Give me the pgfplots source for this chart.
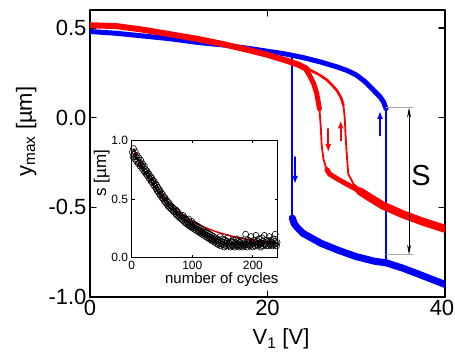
\documentclass[border=0pt]{standalone}
\usepackage{fontspec}
\setmainfont{Liberation Sans}
\usepackage{pgfplots}
\pgfplotsset{compat=1.18}
\usetikzlibrary{arrows.meta}
\definecolor{cblue}{RGB}{0,0,250}
\definecolor{cred}{RGB}{255,0,0}
\definecolor{cgray}{RGB}{170,170,170}
\begin{document}
\begin{tikzpicture}
\useasboundingbox (-90pt,-55pt) rectangle (365pt,297pt);
\begin{axis}[
  at={(0pt,0pt)}, anchor=south west,
  scale only axis, width=355pt, height=287pt,
  xmin=0, xmax=40, ymin=-1, ymax=0.6,
  xtick={0,20}, ytick={-1,-0.5,0,0.5},
  extra x ticks={40},
  extra x tick style={xticklabel style={xshift=-3pt}},
  tick align=inside, major tick length=6pt,
  every tick/.style={black, line width=1.2pt},
  axis line style={line width=1.4pt},
  tick label style={font=\fontsize{22}{22}\selectfont},
  /pgf/number format/assume math mode=true,
  yticklabel style={/pgf/number format/fixed,/pgf/number format/fixed zerofill,/pgf/number format/precision=1},
  xlabel={V\textsubscript{1} [V]},
  xlabel style={font=\fontsize{22}{22}\selectfont, at={(axis description cs:0.538,-0.167)}, anchor=base, inner sep=0pt},
  ylabel={y\textsubscript{max} [µm]},
  ylabel style={font=\fontsize{22}{22}\selectfont, at={(axis description cs:-0.150,0.576)}, anchor=south, inner sep=0pt},
  line join=round, line cap=round,
]
% blue: upper branch
\addplot[cblue, line width=5pt, no marks] coordinates {
(0,0.48)(3,0.47)(6,0.455)(9,0.44)(12,0.42)(15,0.405)(18,0.385)(20,0.37)(22,0.355)(24,0.335)(26,0.31)(28,0.28)(29,0.262)(30,0.238)(31,0.2)(31.6,0.17)(32.2,0.14)(32.7,0.115)(33.1,0.085)(33.35,0.05)};
% blue: transitions
\addplot[cblue, line width=1.8pt, no marks] coordinates {(22.72,0.33)(22.72,-0.54)};
\addplot[cblue, line width=2pt, no marks] coordinates {(33.4,-0.79)(33.4,0.06)};
% blue: lower branch
\addplot[cblue, line width=7pt, no marks] coordinates {
(22.8,-0.56)(23.0,-0.59)(23.3,-0.61)(24,-0.645)(26,-0.70)(28,-0.74)(30,-0.775)(32,-0.80)(33.4,-0.81)(35.3,-0.84)(37.2,-0.876)(40,-0.93)};
% red: upper branch
\addplot[cred, line width=6pt, no marks] coordinates {
(0,0.515)(3,0.51)(6,0.49)(9,0.465)(12,0.44)(15,0.41)(18,0.375)(20,0.35)(22,0.32)(23.5,0.295)(24.4,0.272)};
% red: outer (left) branch
\addplot[cred, line width=5pt, no marks] coordinates {(24.2,0.28)(24.8,0.23)(25.2,0.19)(25.55,0.135)(25.85,0.05)};
\addplot[cred, line width=1.8pt, no marks] coordinates {(25.85,0.05)(26.0,-0.05)(26.1,-0.15)(26.3,-0.23)(26.6,-0.28)};
\addplot[cred, line width=5pt, no marks] coordinates {(26.7,-0.29)(27.0,-0.315)(28,-0.345)(28.9,-0.37)(30.4,-0.41)(31.5,-0.445)};
% red: inner (right) branch
\addplot[cred, line width=2.6pt, no marks] coordinates {(24.6,0.27)(25.8,0.24)(26.7,0.21)(27.3,0.18)(27.8,0.153)(28.3,0.11)(28.55,0.07)};
\addplot[cred, line width=1.8pt, no marks] coordinates {(28.55,0.07)(28.7,0.0)(28.8,-0.1)(28.9,-0.184)(29.1,-0.315)(29.7,-0.37)(30.4,-0.40)};
% red: lower branch
\addplot[cred, line width=8pt, no marks] coordinates {(30.4,-0.41)(31.5,-0.445)(33,-0.49)(35.3,-0.54)(37.5,-0.58)(40,-0.62)};
% annotations
\draw[cgray, line width=1pt] (axis cs:33.4,0.056) -- (axis cs:36.4,0.056);
\draw[cgray, line width=1pt] (axis cs:33.4,-0.764) -- (axis cs:36.4,-0.764);
\draw[black, line width=0.8pt, {Stealth[length=10pt,width=4pt]}-{Stealth[length=10pt,width=4pt]}] (axis cs:35.95,0.056) -- (axis cs:35.95,-0.764);
\node[font=\fontsize{29}{29}\selectfont] at (axis cs:37.3,-0.324) {S};
\draw[cblue, line width=1.8pt, -{Latex[length=8pt,width=6pt]}] (axis cs:23.1,-0.22) -- (axis cs:23.1,-0.37);
\draw[cblue, line width=1.8pt, -{Latex[length=8pt,width=6pt]}] (axis cs:32.68,-0.10) -- (axis cs:32.68,0.037);
\draw[cred, line width=1.8pt, -{Latex[length=8pt,width=6pt]}] (axis cs:26.85,-0.062) -- (axis cs:26.85,-0.193);
\draw[cred, line width=1.8pt, -{Latex[length=8pt,width=6pt]}] (axis cs:28.25,-0.128) -- (axis cs:28.25,-0.015);
\end{axis}
\begin{axis}[
  at={(41.7pt,39.3pt)}, anchor=south west,
  scale only axis, width=146pt, height=117.4pt,
  xmin=0, xmax=241, ymin=0, ymax=1,
  xtick={0,100,200}, ytick={0,0.5,1},
  tick align=inside, major tick length=3pt,
  every tick/.style={black, line width=0.8pt},
  axis line style={line width=0.8pt},
  tick label style={font=\fontsize{12}{12}\selectfont},
  /pgf/number format/assume math mode=true,
  yticklabel style={/pgf/number format/fixed,/pgf/number format/fixed zerofill,/pgf/number format/precision=1},
  xlabel={number of cycles},
  xlabel style={font=\fontsize{15}{15}\selectfont, at={(axis description cs:0.617,0)}, anchor=north, yshift=-15pt, inner sep=0pt},
  ylabel={s [µm]},
  ylabel style={font=\fontsize{17}{17}\selectfont, at={(axis description cs:-0.149,0.72)}, anchor=south, inner sep=0pt},
  axis background/.style={fill=white},
]
\addplot[only marks, mark=o, mark size=3pt, mark options={line width=0.6pt, draw=black}] coordinates {
(1,0.90)(2,0.86)(3,0.93)(4,0.88)(5,0.84)(6,0.90)(7,0.86)(8,0.82)(9,0.87)(10,0.83)
(11,0.80)(12,0.85)(13,0.81)(14,0.78)(15,0.83)(16,0.79)(17,0.76)(18,0.80)(19,0.77)(20,0.74)
(21,0.78)(22,0.73)(23,0.75)(24,0.71)(25,0.74)(26,0.70)(27,0.72)(28,0.68)(29,0.71)(30,0.67)
(31,0.69)(32,0.65)(33,0.68)(34,0.64)(35,0.66)(36,0.62)(37,0.65)(38,0.61)(39,0.63)(40,0.59)
(41,0.62)(42,0.57)(43,0.60)(44,0.56)(45,0.58)(46,0.54)(47,0.57)(48,0.53)(49,0.55)(50,0.51)
(51,0.54)(52,0.50)(53,0.52)(54,0.48)(55,0.51)(56,0.47)(57,0.49)(58,0.46)(59,0.48)(60,0.44)
(61,0.47)(62,0.43)(63,0.45)(64,0.42)(65,0.44)(66,0.41)(67,0.43)(68,0.40)(69,0.42)(70,0.39)
(72,0.41)(73,0.37)(74,0.40)(75,0.36)(76,0.39)(77,0.35)(78,0.37)(79,0.34)(80,0.36)(82,0.33)
(83,0.35)(84,0.32)(85,0.36)(86,0.31)(87,0.34)(88,0.30)(89,0.33)(90,0.29)(91,0.32)(92,0.30)
(93,0.28)(94,0.33)(95,0.27)(96,0.30)(97,0.28)(98,0.26)(99,0.31)(100,0.27)(101,0.25)(102,0.29)
(103,0.26)(104,0.24)(105,0.28)(106,0.25)(107,0.23)(108,0.27)(109,0.24)(110,0.22)(111,0.26)(112,0.23)
(113,0.21)(114,0.25)(115,0.22)(116,0.20)(117,0.24)(118,0.21)(119,0.19)(120,0.23)(121,0.20)(122,0.18)
(123,0.22)(124,0.19)(125,0.17)(126,0.21)(127,0.18)(128,0.16)(129,0.20)(130,0.17)(131,0.15)(132,0.19)
(133,0.16)(134,0.14)(135,0.18)(136,0.15)(137,0.13)(138,0.17)(139,0.14)(140,0.12)(141,0.16)(142,0.13)
(143,0.11)(144,0.15)(145,0.12)(146,0.18)(147,0.10)(148,0.14)(149,0.12)(150,0.16)(151,0.11)(152,0.13)
(153,0.09)(154,0.15)(155,0.12)(156,0.10)(157,0.14)(158,0.11)(159,0.17)(160,0.13)(161,0.10)(162,0.12)
(163,0.09)(164,0.14)(165,0.11)(166,0.13)(167,0.10)(168,0.15)(169,0.12)(170,0.09)(171,0.13)(172,0.11)
(173,0.16)(174,0.10)(175,0.12)(176,0.14)(177,0.09)(178,0.11)(179,0.13)(180,0.10)(181,0.15)(182,0.12)
(183,0.09)(184,0.11)(185,0.14)(186,0.10)(187,0.12)(188,0.20)(189,0.11)(190,0.13)(191,0.09)(192,0.15)
(193,0.11)(194,0.12)(195,0.10)(196,0.14)(197,0.18)(198,0.11)(199,0.13)(200,0.09)(201,0.12)(202,0.15)
(203,0.10)(204,0.13)(205,0.19)(206,0.11)(207,0.14)(208,0.10)(209,0.12)(210,0.16)(211,0.11)(212,0.13)
(213,0.09)(214,0.12)(215,0.17)(216,0.10)(217,0.14)(218,0.12)(219,0.19)(220,0.11)(221,0.13)(222,0.10)
(223,0.15)(224,0.12)(225,0.14)(226,0.10)(227,0.18)(228,0.12)(229,0.11)(230,0.15)(231,0.13)(232,0.10)
(233,0.12)(234,0.16)(235,0.11)(236,0.14)(237,0.20)(238,0.12)(239,0.10)(240,0.13)};
\addplot[cred, line width=1.5pt, no marks, smooth] coordinates {
(3,0.93)(10,0.84)(20,0.745)(30,0.662)(40,0.589)(50,0.526)(60,0.470)(70,0.422)(80,0.381)(90,0.344)(100,0.312)(110,0.284)(120,0.260)(140,0.220)(160,0.190)(180,0.167)(200,0.150)(220,0.137)(241,0.127)};
\end{axis}
\end{tikzpicture}
\end{document}
